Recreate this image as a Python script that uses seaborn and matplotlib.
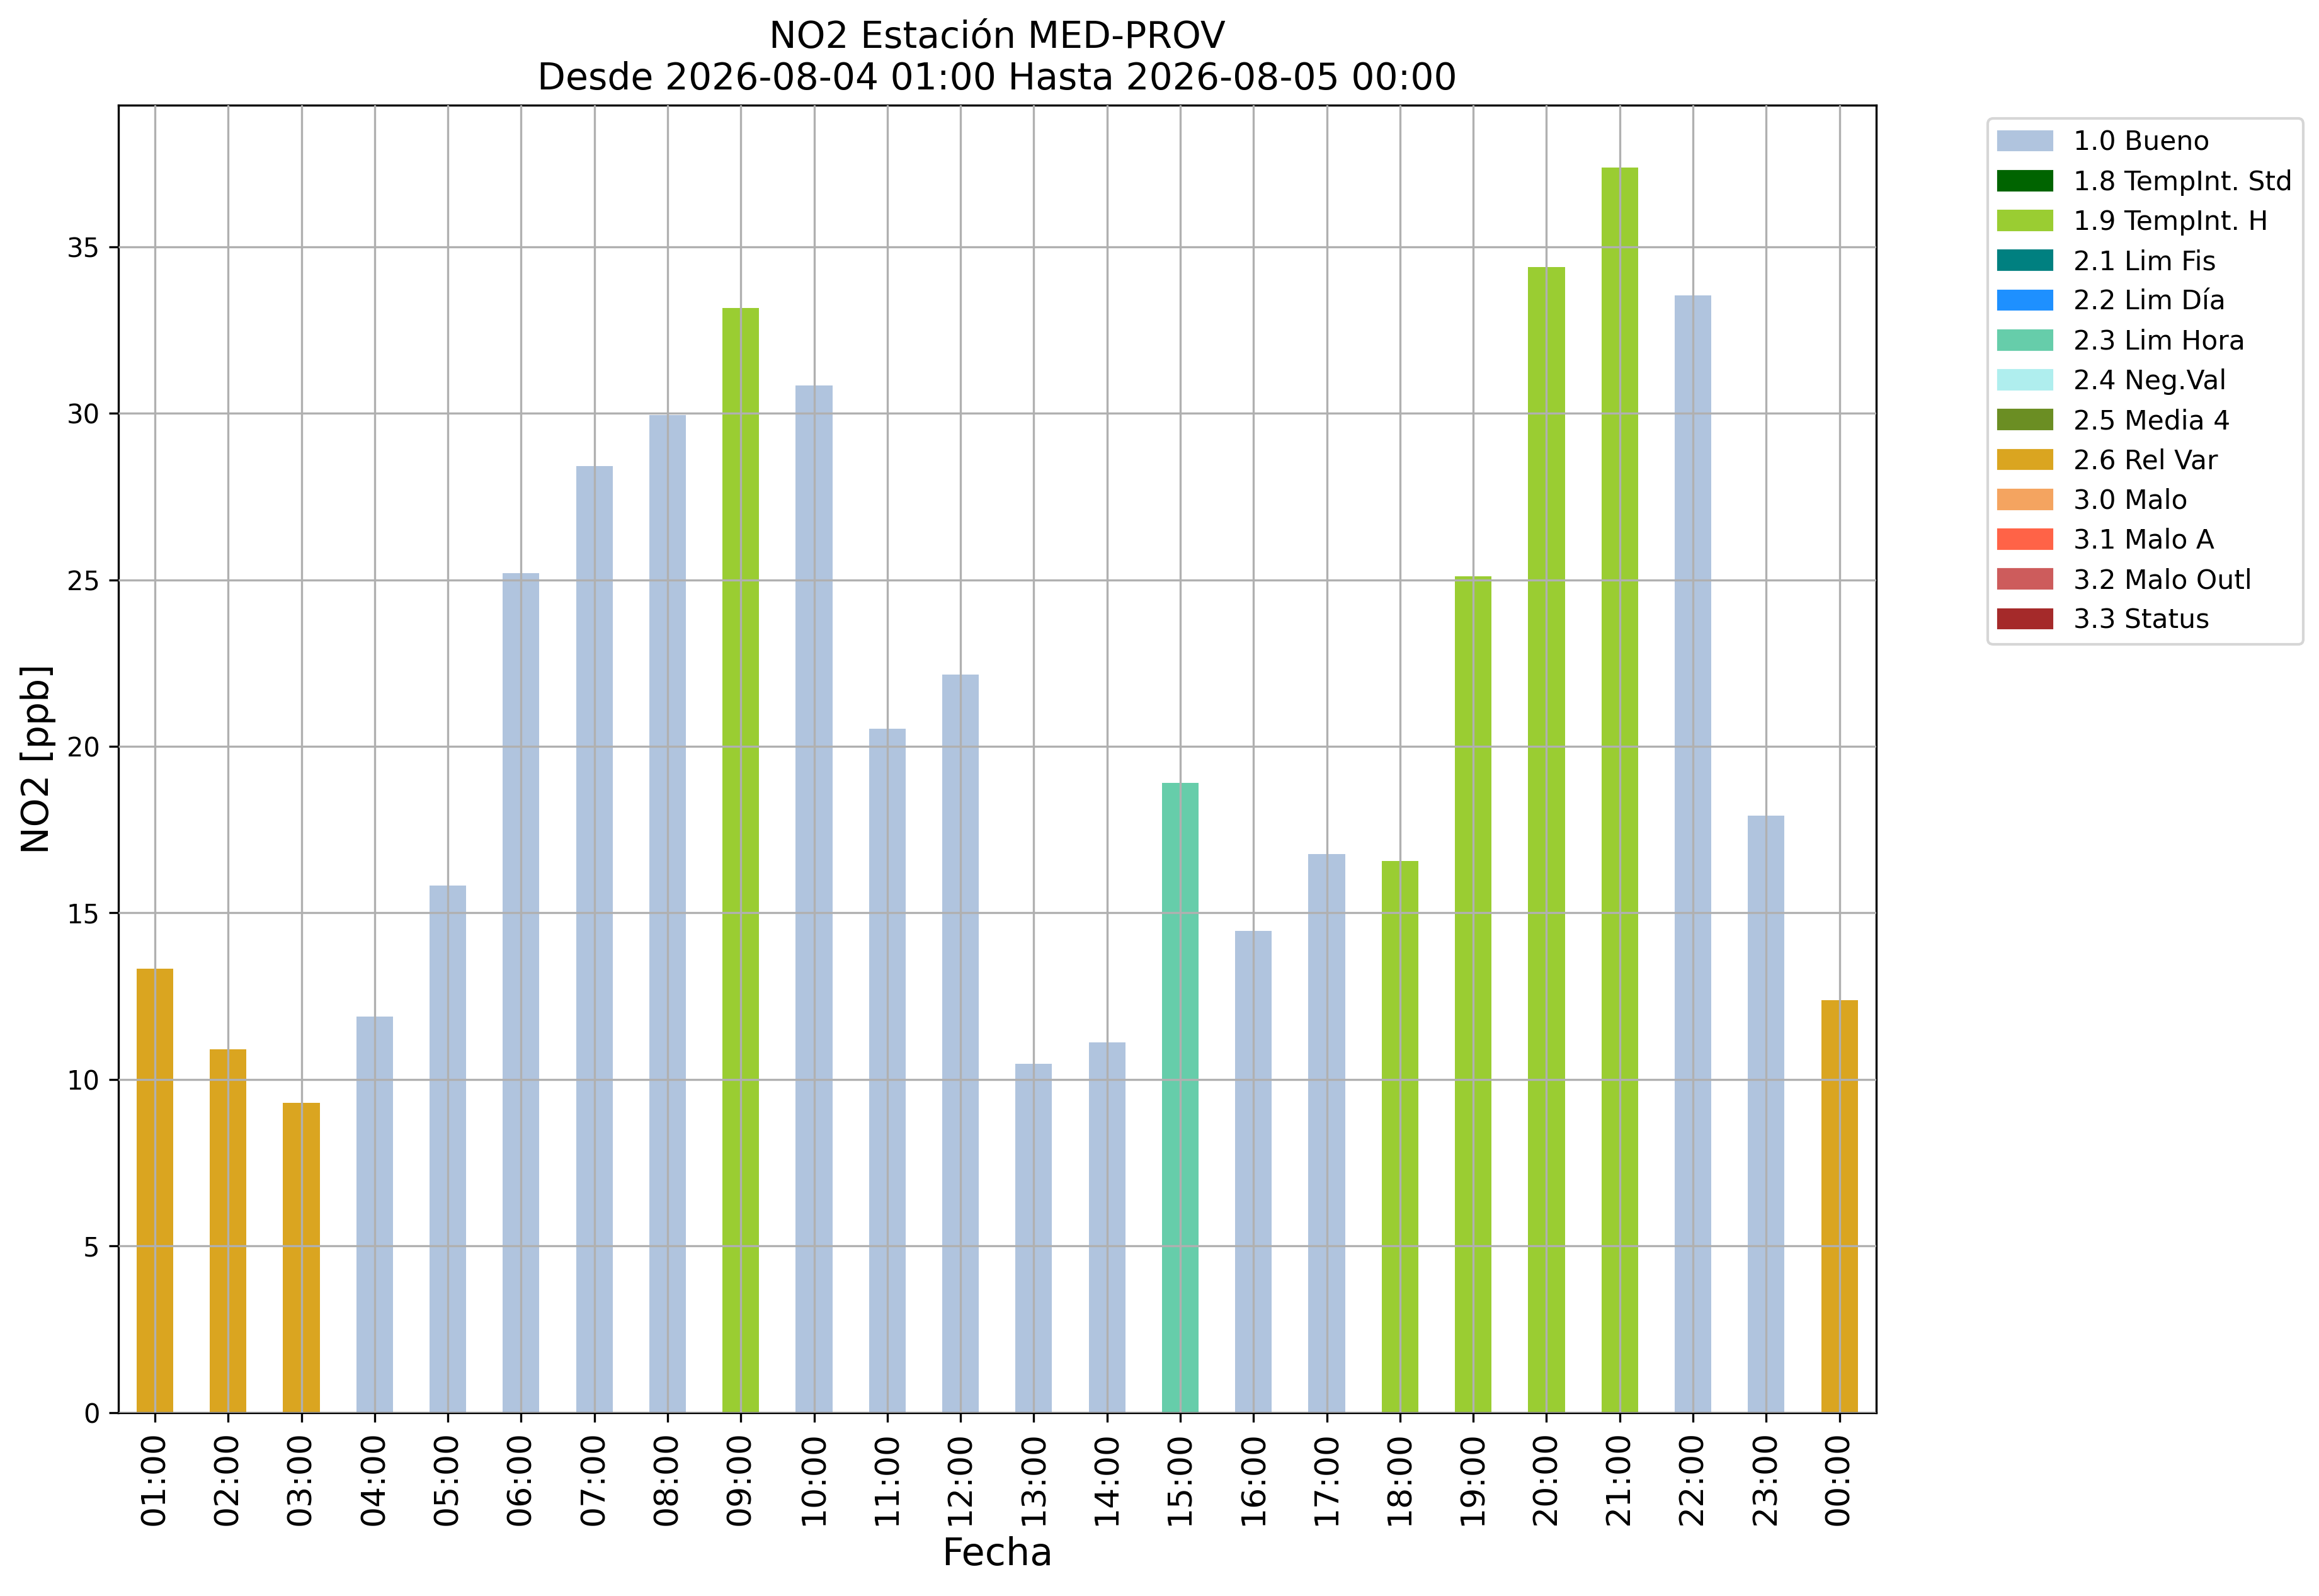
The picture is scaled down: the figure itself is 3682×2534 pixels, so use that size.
import pandas as pd
import numpy as np
import matplotlib.pyplot as plt
import seaborn as sns
import matplotlib.patches as mpatches

# data
horas = ['01:00', '02:00', '03:00', '04:00', '05:00', '06:00', '07:00', '08:00',
         '09:00', '10:00', '11:00', '12:00', '13:00', '14:00', '15:00', '16:00',
         '17:00', '18:00', '19:00', '20:00', '21:00', '22:00', '23:00', '00:00']
no2 = [13.32, 10.91, 9.30, 11.89, 15.83, 25.21, 28.42, 29.95,
       33.16, 30.83, 20.54, 22.15, 10.47, 11.11, 18.91, 14.46,
       16.76, 16.55, 25.10, 34.40, 37.38, 33.55, 17.93, 12.38]
flags = ['2.6 Rel Var', '2.6 Rel Var', '2.6 Rel Var', '1.0 Bueno', '1.0 Bueno', '1.0 Bueno',
         '1.0 Bueno', '1.0 Bueno', '1.9 TempInt. H', '1.0 Bueno', '1.0 Bueno', '1.0 Bueno',
         '1.0 Bueno', '1.0 Bueno', '2.3 Lim Hora', '1.0 Bueno', '1.0 Bueno', '1.9 TempInt. H',
         '1.9 TempInt. H', '1.9 TempInt. H', '1.9 TempInt. H', '1.0 Bueno', '1.0 Bueno', '2.6 Rel Var']

categorias = ['1.0 Bueno', '1.8 TempInt. Std', '1.9 TempInt. H', '2.1 Lim Fis', '2.2 Lim Día',
              '2.3 Lim Hora', '2.4 Neg.Val', '2.5 Media 4', '2.6 Rel Var', '3.0 Malo',
              '3.1 Malo A', '3.2 Malo Outl', '3.3 Status']
colores = ['lightsteelblue', 'darkgreen', 'yellowgreen', 'teal', 'dodgerblue',
           'mediumaquamarine', 'paleturquoise', 'olivedrab', 'goldenrod', 'sandybrown',
           'tomato', 'indianred', 'brown']

df = pd.DataFrame({'Fecha': horas, 'NO2': no2, 'flag': flags})
paleta = dict(zip(categorias, colores))

fig = plt.figure(figsize=(3682 / 300, 2534 / 300), dpi=300)
ax = fig.add_axes([0.051, 0.115, 0.758, 0.819])

sns.barplot(data=df, x='Fecha', y='NO2', hue='flag', order=horas, palette=paleta,
            dodge=False, width=0.5, saturation=1, legend=False, ax=ax)

ax.set_axisbelow(False)
ax.grid(True, color='#b0b0b0', linewidth=0.8)
ax.set_ylim(0, max(no2) * 1.05)
ax.set_xlim(-0.5, len(horas) - 0.5)
ax.tick_params(axis='x', labelsize=12.5, rotation=90)
ax.tick_params(axis='y', labelsize=10)
ax.set_xlabel('Fecha', fontsize=14.5)
ax.set_ylabel('NO2 [ppb]', fontsize=14)
ax.set_title('NO2 Estación MED-PROV\nDesde 2026-08-04 01:00 Hasta 2026-08-05 00:00', fontsize=14)

handles = [mpatches.Patch(color=c, label=l) for l, c in zip(categorias, colores)]
ax.legend(handles=handles, loc='upper left', bbox_to_anchor=(1.056, 1), fontsize=10.2)

plt.savefig('out.png', dpi=300)
